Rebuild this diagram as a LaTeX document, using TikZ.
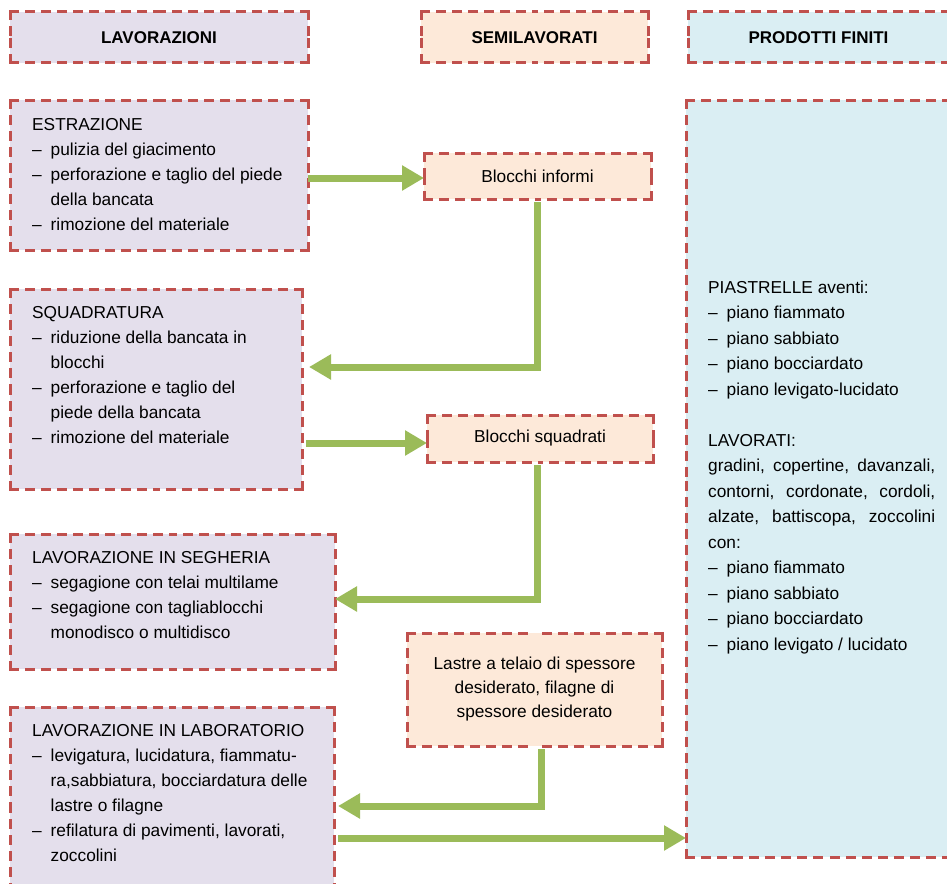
\documentclass[tikz,border=0pt]{standalone}
\usepackage{fontspec}
\setmainfont{Liberation Sans}
\usetikzlibrary{arrows.meta,calc}
\definecolor{bred}{HTML}{C0504D}
\definecolor{lavfill}{HTML}{E4DFEC}
\definecolor{pchfill}{HTML}{FDE9D9}
\definecolor{blufill}{HTML}{DAEEF3}
\definecolor{agreen}{HTML}{9BBB59}
\newcommand{\itemline}[1]{\makebox[18.5pt][l]{–}#1}
\newcommand{\contline}[1]{\hspace*{18.5pt}#1}
\newcommand{\justline}[1]{\makebox[227pt][s]{#1}}
\newcommand{\dsides}[1]{%
  \foreach \sa/\sb in {north west/north east, north east/south east, south east/south west, south west/north west}{%
    \draw[dline] (#1.\sa) -- ($(#1.\sa)!0.5!(#1.\sb)$);
    \draw[dline] (#1.\sb) -- ($(#1.\sa)!0.5!(#1.\sb)$);
  }}
\tikzset{
  dline/.style={draw=bred, line width=3pt, line cap=rect, dash pattern=on 7pt off 9pt},
  dbox/.style={rectangle, inner sep=0pt, outer sep=0pt, anchor=north west},
  lav/.style={dbox, fill=lavfill},
  pch/.style={dbox, fill=pchfill},
  blu/.style={dbox, fill=blufill},
  hdr/.style={font=\bfseries\fontsize{17}{20}\selectfont},
  mid/.style={font=\fontsize{17.3}{24}\selectfont, align=center},
  txt/.style={font=\fontsize{17.3}{25}\selectfont, align=left, inner sep=0pt, anchor=north west},
  txtr/.style={font=\fontsize{17.3}{25.5}\selectfont, align=left, inner sep=0pt, anchor=north west},
  garrow/.style={draw=agreen, line width=7pt, -{Triangle[width=24pt,length=22pt]}}
}
\begin{document}
\begin{tikzpicture}[x=1pt,y=-1pt]
\useasboundingbox (0,0) rectangle (947,883);
\clip (0,0) rectangle (947,883);
% headers
\node[lav, hdr, minimum width=298pt, minimum height=51pt] (h1) at (10,12) {LAVORAZIONI};
\node[pch, hdr, minimum width=227pt, minimum height=51pt] (h2) at (421,12) {SEMILAVORATI};
\node[blu, hdr, minimum width=261pt, minimum height=51pt] (h3) at (688,12) {PRODOTTI FINITI};
% left boxes
\node[lav, minimum width=298pt, minimum height=150pt] (estr) at (10,100) {};
\node[lav, minimum width=292pt, minimum height=200pt] (squad) at (10,289) {};
\node[lav, minimum width=325pt, minimum height=135pt] (seg) at (10,534) {};
\node[lav, minimum width=324pt, minimum height=200pt] (lab) at (10,707) {};
% middle boxes
\node[pch, mid, minimum width=227pt, minimum height=46pt] (blk1) at (424,153) {Blocchi informi};
\node[pch, mid, minimum width=226pt, minimum height=47pt] (blk2) at (427,415) {Blocchi squadrati};
\node[pch, mid, minimum width=255pt, minimum height=113pt] (lastre) at (407,633) {Lastre a telaio di spessore\\desiderato, filagne di\\spessore desiderato};
% right box
\node[blu, minimum width=280pt, minimum height=757pt] (prod) at (686,100) {};
% dashed borders
\dsides{h1}\dsides{h2}\dsides{h3}
\dsides{estr}\dsides{squad}\dsides{seg}\dsides{lab}
\dsides{blk1}\dsides{blk2}\dsides{lastre}\dsides{prod}
% texts
\node[txt] (t1) at (32,118.3) {ESTRAZIONE\\
\itemline{pulizia del giacimento}\\
\itemline{perforazione e taglio del piede}\\
\contline{della bancata}\\
\itemline{rimozione del materiale}};
\node[txt] (t2) at (32,306.3) {SQUADRATURA\\
\itemline{riduzione della bancata in}\\
\contline{blocchi}\\
\itemline{perforazione e taglio del}\\
\contline{piede della bancata}\\
\itemline{rimozione del materiale}};
\node[txt] (t3) at (32,551.3) {LAVORAZIONE IN SEGHERIA\\
\itemline{segagione con telai multilame}\\
\itemline{segagione con tagliablocchi}\\
\contline{monodisco o multidisco}};
\node[txt] (t4) at (32,724.3) {LAVORAZIONE IN LABORATORIO\\
\itemline{levigatura, lucidatura, fiammatu-}\\
\contline{ra,sabbiatura, bocciardatura delle}\\
\contline{lastre o filagne}\\
\itemline{refilatura di pavimenti, lavorati,}\\
\contline{zoccolini}};
\node[txtr] (t5) at (708,280.3) {PIASTRELLE aventi:\\
\itemline{piano fiammato}\\
\itemline{piano sabbiato}\\
\itemline{piano bocciardato}\\
\itemline{piano levigato-lucidato}\\[25.5pt]
LAVORATI:\\
\justline{gradini, copertine, davanzali,}\\
\justline{contorni, cordonate, cordoli,}\\
\justline{alzate, battiscopa, zoccolini}\\
con:\\
\itemline{piano fiammato}\\
\itemline{piano sabbiato}\\
\itemline{piano bocciardato}\\
\itemline{piano levigato / lucidato}};
% arrows
\coordinate (y1) at (0,178);
\coordinate (y2) at (0,367);
\coordinate (y3) at (0,443);
\coordinate (y4) at (0,599);
\coordinate (y5) at (0,806);
\coordinate (y6) at (0,838);
\draw[garrow] (estr.east |- y1) -- (blk1.west |- y1);
\draw[garrow, shorten <=3pt, shorten >=7pt] (blk1.south) |- (squad.east |- y2);
\draw[garrow, shorten <=4pt] (squad.east |- y3) -- (blk2.west |- y3);
\draw[garrow, shorten <=3pt] ([xshift=-3pt]blk2.south) |- (seg.east |- y4);
\draw[garrow, shorten <=3pt, shorten >=4pt] ([xshift=6.5pt]lastre.south) |- (lab.east |- y5);
\draw[garrow, shorten <=4pt] (lab.east |- y6) -- (prod.west |- y6);
\end{tikzpicture}
\end{document}
